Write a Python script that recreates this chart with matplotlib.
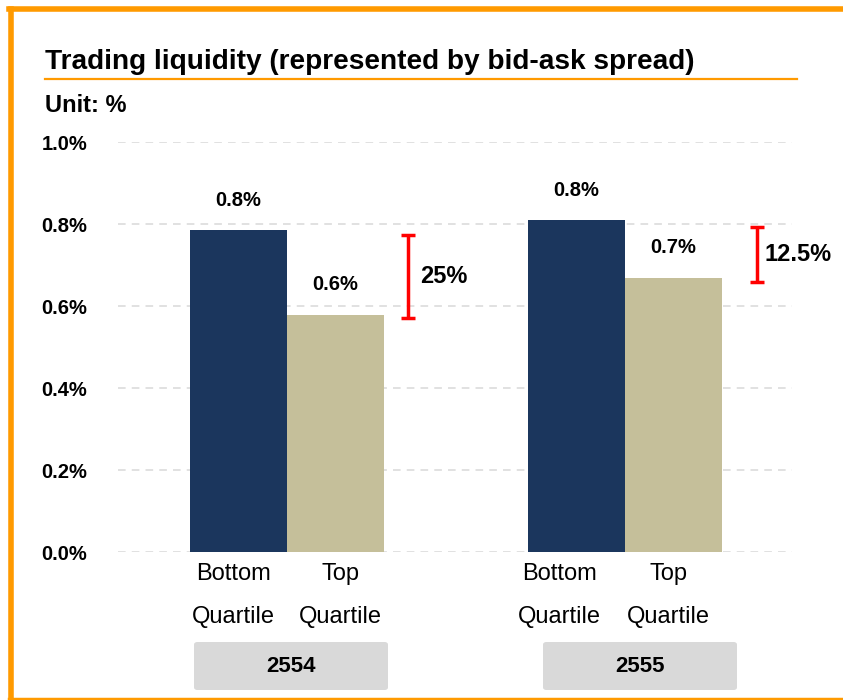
import matplotlib
matplotlib.use("Agg")
import matplotlib.pyplot as plt
from matplotlib.patches import FancyBboxPatch
from matplotlib.lines import Line2D

plt.rcParams['font.family'] = ['Liberation Sans', 'DejaVu Sans']

# ---- data ----
years = ["2554", "2555"]
categories = ["Bottom\nQuartile", "Top\nQuartile"]
bottom_quartile = [0.785, 0.810]
top_quartile = [0.578, 0.668]
bottom_labels = ["0.8%", "0.8%"]
top_labels = ["0.6%", "0.7%"]
gap_labels = ["25%", "12.5%"]
bracket_low = [0.571, 0.659]
bracket_high = [0.773, 0.793]
yticks = [0.0, 0.2, 0.4, 0.6, 0.8, 1.0]

# ---- style ----
W, H = 843, 700
navy = "#1b365d"
beige = "#c5bf9a"
orange = "#ff9a00"
red = "#ff0000"
bar_w = 0.287
bracket_off = [0.358, 0.39]
gap_text_off = [9, 5.5]
# horizontal label offsets in pixels, per group: (bottom, top)
cat_label_off_px = [(-5, 5), (-17.5, -5)]

fig = plt.figure(figsize=(W / 100, H / 100), dpi=100)

def fx(px):
    return px / W

def fy(py):
    return 1 - py / H

# border
fig.add_artist(Line2D([fx(10.5), fx(10.5)], [fy(700), fy(8.5)], color=orange, lw=4.0, transform=fig.transFigure))
fig.add_artist(Line2D([fx(8.5), fx(843)], [fy(8.5), fy(8.5)], color=orange, lw=4.0, transform=fig.transFigure))
fig.add_artist(Line2D([fx(8.5), fx(843)], [fy(698.5), fy(698.5)], color=orange, lw=2.5, transform=fig.transFigure))

# title
fig.text(fx(45), fy(62), "Trading liquidity (represented by bid-ask spread)", fontsize=20.15,
         fontweight="bold", ha="left", va="center")
fig.add_artist(Line2D([fx(45), fx(797)], [fy(78.5), fy(78.5)], color=orange, lw=1.6, transform=fig.transFigure))
fig.text(fx(45), fy(106), "Unit: %", fontsize=17, fontweight="bold", ha="left", va="center")

ax = fig.add_axes([fx(118), fy(552), fx(792 - 118), (552 - 142) / H])
ax.set_ylim(0, 1.0)
ax.set_xlim(-0.5, 1.494)

x = list(range(len(years)))
xb = [i - bar_w / 2 for i in x]
xt = [i + bar_w / 2 for i in x]
ax.bar(xb, bottom_quartile, width=bar_w, color=navy, zorder=3)
ax.bar(xt, top_quartile, width=bar_w, color=beige, zorder=3)

for i in x:
    ax.annotate(bottom_labels[i], (xb[i], bottom_quartile[i]), xytext=(0, 21), textcoords="offset points",
                ha="center", va="center", fontsize=14.5, fontweight="bold")
    ax.annotate(top_labels[i], (xt[i], top_quartile[i]), xytext=(0, 22), textcoords="offset points",
                ha="center", va="center", fontsize=14.5, fontweight="bold")
    bx = i + bracket_off[i]
    ax.plot([bx, bx], [bracket_low[i], bracket_high[i]], color=red, lw=2.5, zorder=4,
            solid_capstyle="butt")
    for yv in (bracket_low[i], bracket_high[i]):
        ax.plot([bx - 0.021, bx + 0.021], [yv, yv], color=red, lw=2.5, zorder=4, solid_capstyle="butt")
    ax.annotate(gap_labels[i], (bx, (bracket_low[i] + bracket_high[i]) / 2), xytext=(gap_text_off[i], 0),
                textcoords="offset points", ha="left", va="center", fontsize=17, fontweight="bold")
    # category labels
    for j, (xx, lab) in enumerate(((xb[i], categories[0]), (xt[i], categories[1]))):
        l1, l2 = lab.split("\n")
        dx = cat_label_off_px[i][j] * 0.72
        ax.annotate(l1, (xx, 0), xytext=(dx, -16), textcoords="offset points",
                    ha="center", va="center", fontsize=17, annotation_clip=False)
        ax.annotate(l2, (xx, 0), xytext=(dx, -47), textcoords="offset points",
                    ha="center", va="center", fontsize=17, annotation_clip=False)

ax.set_yticks(yticks)
ax.set_yticklabels([f"{v:.1f}%" for v in yticks], fontsize=14.5, fontweight="bold")
ax.tick_params(axis="y", length=0, pad=22)
ax.set_xticks([])
ax.grid(axis="y", color="#d9d9d9", linestyle=(0, (5, 4)), lw=1.1, zorder=0)
for s in ax.spines.values():
    s.set_visible(False)

# year boxes
box_centers_px = [291, 640]
for i, yr in enumerate(years):
    cx = box_centers_px[i]
    fig.add_artist(FancyBboxPatch((fx(cx - 97), fy(690)), fx(194), 48 / H,
                                  boxstyle="round,pad=0,rounding_size=0.004", transform=fig.transFigure,
                                  facecolor="#d9d9d9", edgecolor="none"))
    fig.text(fx(cx), fy(666), yr, fontsize=16, fontweight="bold", ha="center", va="center")

fig.savefig("out.png", dpi=100)
